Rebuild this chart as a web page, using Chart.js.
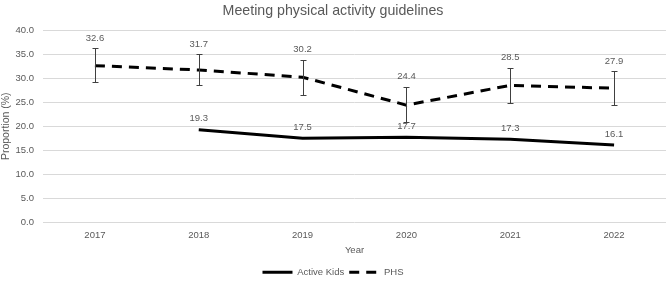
<!DOCTYPE html>
<html>
<head>
<meta charset="utf-8">
<script src="https://cdn.jsdelivr.net/npm/chart.js@4"></script>
<style>
  html, body { margin: 0; padding: 0; background: #fff; }
  #wrap { width: 669px; height: 283px; }
</style>
</head>
<body>
<div id="wrap"><canvas id="chart"></canvas></div>
<script>
const years = ['2017', '2018', '2019', '2020', '2021', '2022'];
const activeKids = [null, 19.3, 17.5, 17.7, 17.3, 16.1];
const phs = [32.6, 31.7, 30.2, 24.4, 28.5, 27.9];
const phsErrUp = [3.6, 3.3, 3.6, 3.8, 3.7, 3.6];
const phsErrDown = [3.4, 3.1, 3.7, 3.5, 3.7, 3.4];

const textColor = '#595959';
const fontFamily = "'Liberation Sans', Arial, sans-serif";

// error bars + value labels drawn on top of the series
const extras = {
    id: 'extras',
    afterDatasetsDraw(chart) {
        const ctx = chart.ctx;
        const y = chart.scales.y;
        const phsMeta = chart.getDatasetMeta(1);
        const akMeta = chart.getDatasetMeta(0);
        ctx.save();
        ctx.strokeStyle = '#404040';
        ctx.lineWidth = 1;
        phs.forEach((v, i) => {
            const x = Math.round(phsMeta.data[i].x) + 0.5;
            const top = Math.round(y.getPixelForValue(v + phsErrUp[i])) + 0.5;
            const bot = Math.round(y.getPixelForValue(v - phsErrDown[i])) + 0.5;
            ctx.beginPath();
            ctx.moveTo(x, top); ctx.lineTo(x, bot);
            ctx.moveTo(x - 3, top); ctx.lineTo(x + 3, top);
            ctx.moveTo(x - 3, bot); ctx.lineTo(x + 3, bot);
            ctx.stroke();
        });
        ctx.fillStyle = textColor;
        ctx.font = '9.5px ' + fontFamily;
        ctx.textAlign = 'center';
        ctx.textBaseline = 'middle';
        phs.forEach((v, i) => {
            const x = phsMeta.data[i].x;
            const top = y.getPixelForValue(v + phsErrUp[i]);
            ctx.fillText(v.toFixed(1), x, top - 10);
        });
        activeKids.forEach((v, i) => {
            if (v === null) return;
            const x = akMeta.data[i].x;
            ctx.fillText(v.toFixed(1), x, y.getPixelForValue(v) - 11);
        });
        ctx.restore();
    }
};

new Chart(document.getElementById('chart'), {
    type: 'line',
    data: {
        labels: years,
        datasets: [
            {
                label: 'Active Kids',
                data: activeKids,
                borderColor: '#000',
                backgroundColor: '#000',
                borderWidth: 3,
                pointRadius: 0,
                pointStyle: 'line',
                tension: 0
            },
            {
                label: 'PHS',
                data: phs,
                borderColor: '#000',
                backgroundColor: '#000',
                borderWidth: 3,
                borderDash: [10, 7],
                pointRadius: 0,
                pointStyle: 'line',
                tension: 0
            }
        ]
    },
    options: {
        responsive: true,
        maintainAspectRatio: false,
        animation: false,
        layout: { padding: { left: 0, right: 3, top: 3, bottom: -4 } },
        plugins: {
            title: {
                display: true,
                text: 'Meeting physical activity guidelines',
                color: textColor,
                font: { family: fontFamily, size: 14.2, weight: 'normal' },
                padding: { top: 0, bottom: 10 }
            },
            legend: {
                position: 'bottom',
                labels: {
                    usePointStyle: true,
                    pointStyleWidth: 30,
                    boxHeight: 3,
                    color: textColor,
                    font: { family: fontFamily, size: 9.5 },
                    padding: 5,
                    generateLabels(chart) {
                        const items = Chart.defaults.plugins.legend.labels.generateLabels(chart);
                        items.forEach(it => {
                            it.lineDash = chart.data.datasets[it.datasetIndex].borderDash || [];
                        });
                        return items;
                    }
                }
            },
            tooltip: { enabled: false }
        },
        scales: {
            x: {
                offset: true,
                grid: { display: false, drawTicks: false },
                border: { display: false },
                ticks: { padding: 7, color: textColor, font: { family: fontFamily, size: 9.5 } },
                title: {
                    display: true,
                    text: 'Year',
                    color: textColor,
                    font: { family: fontFamily, size: 9.5 },
                    padding: { top: 0, bottom: 6 }
                },
                afterFit(scale) { scale.height = 40; }
            },
            y: {
                min: 0,
                max: 40,
                grid: { color: '#d9d9d9', drawTicks: false },
                border: { display: false },
                ticks: {
                    stepSize: 5,
                    padding: 9,
                    color: textColor,
                    font: { family: fontFamily, size: 9.5 },
                    callback: v => v.toFixed(1)
                },
                title: {
                    display: true,
                    text: 'Proportion (%)',
                    color: textColor,
                    font: { family: fontFamily, size: 10.5 },
                    padding: { top: 0, bottom: 1 }
                },
                afterFit(scale) { scale.width = 43; }
            }
        }
    },
    plugins: [extras]
});
</script>
</body>
</html>
